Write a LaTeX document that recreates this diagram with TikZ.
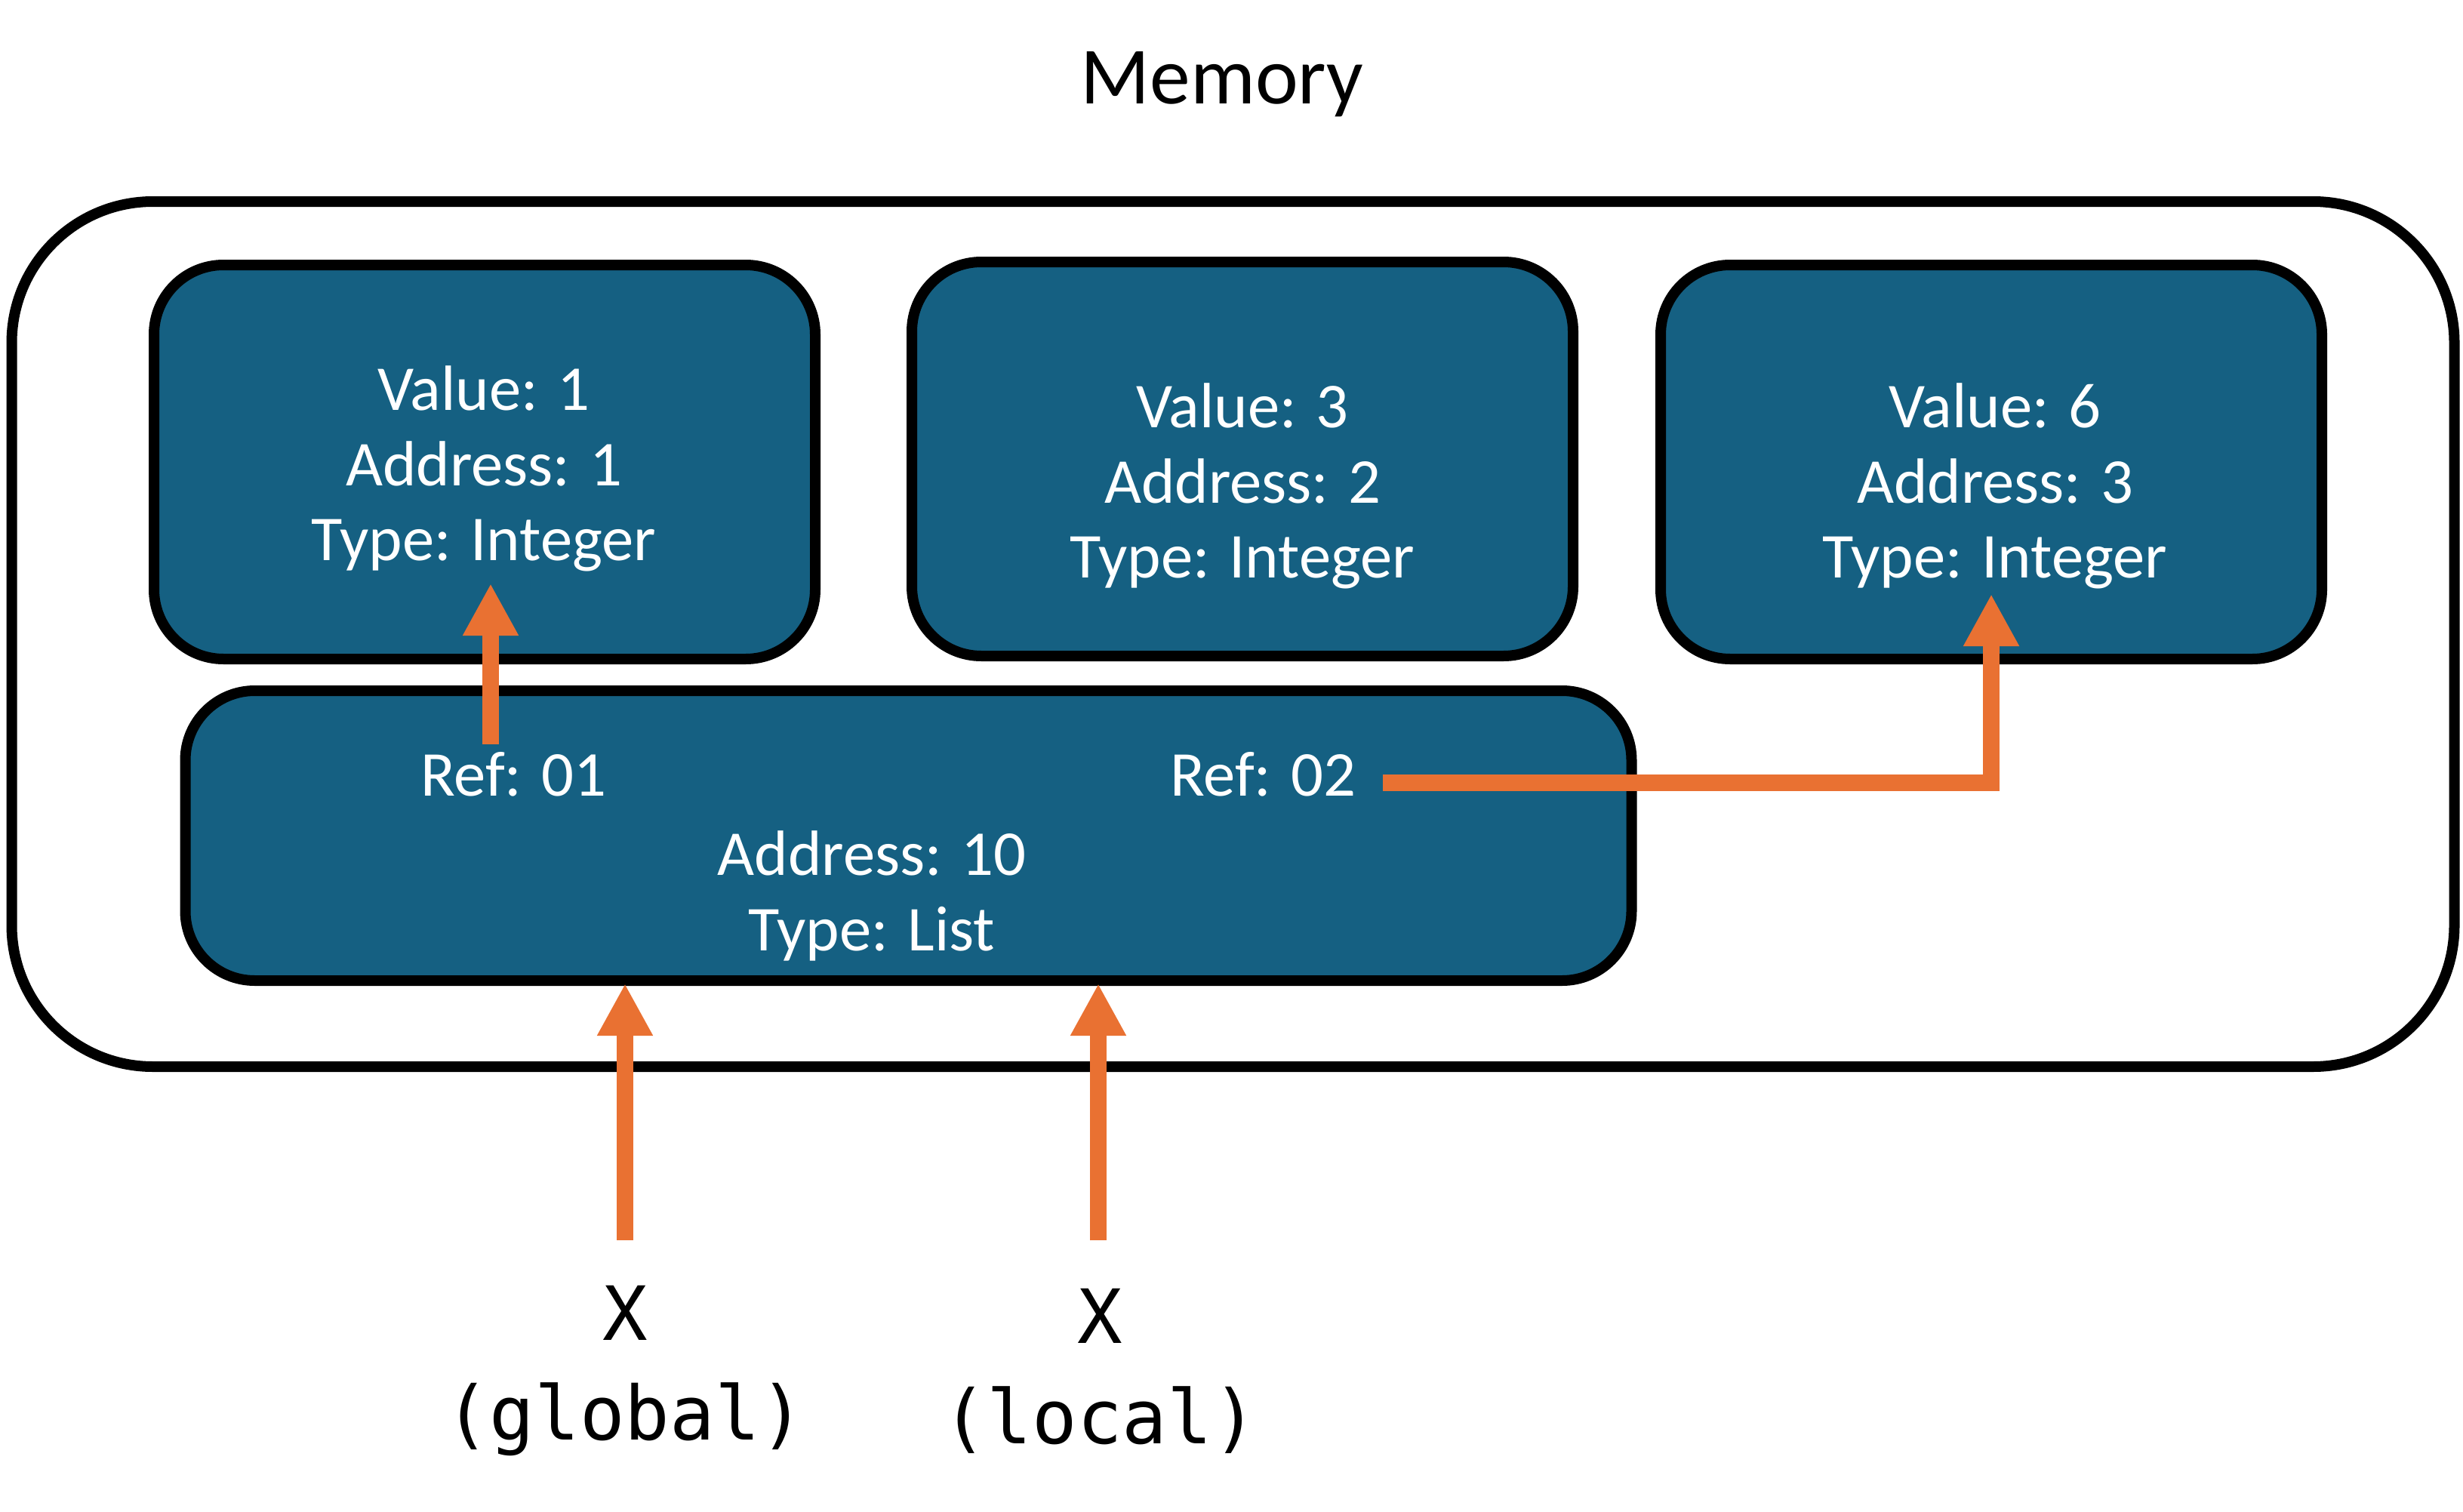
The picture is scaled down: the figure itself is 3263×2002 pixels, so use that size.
\documentclass[tikz,border=0pt]{standalone}
\usepackage{fontspec}
\setmainfont{Carlito}
\setmonofont{DejaVu Sans Mono}
\usetikzlibrary{arrows.meta}
\definecolor{cellblue}{HTML}{156082}
\definecolor{reforange}{HTML}{E97132}

\begin{document}
\begin{tikzpicture}
  [x=0.1mm, y=-0.1mm,
   cell/.style={draw=black, line width=1.4mm, fill=cellblue, rounded corners=9.2mm, inner sep=0pt, minimum width=87.6mm, minimum height=52.2mm},
   celltext/.style={text=white, align=center, inner sep=0pt, font=\fontsize{24.1pt}{28.4pt}\selectfont},
   ptr/.style={draw=reforange, line width=2.25mm, -{Triangle[length=6.9mm, width=6.9mm]}},
   varname/.style={align=center, inner sep=0pt, font=\ttfamily\fontsize{28.2pt}{37.8pt}\selectfont}]

  \useasboundingbox (0,0) rectangle (3263,2002);

  \node[draw=black, line width=1.4mm, rounded corners=18.7mm, minimum width=323.6mm, minimum height=114.6mm] (mem) at (1633.5,840) {};
  \node[inner sep=0pt, font=\fontsize{30.6pt}{36pt}\selectfont] (title) at (1619,112) {Memory};

  \node[cell] (c1) at (642,612) {};
  \node[cell] (c2) at (1646,608) {};
  \node[cell] (c3) at (2638,612) {};
  \node[cell, minimum width=191.6mm, minimum height=38.4mm] (lst) at (1203.5,1107) {};

  \node[celltext] (v1) at (641,621) {Value: 1\\Address: 1\\Type: Integer};
  \node[celltext] (v2) at (1646,644) {Value: 3\\Address: 2\\Type: Integer};
  \node[celltext] (v3) at (2643,644) {Value: 6\\Address: 3\\Type: Integer};
  \node[celltext] (ref1) at (680,1026) {Ref: 01};
  \node[celltext] (ref2) at (1673,1026) {Ref: 02};
  \node[celltext] (lstinfo) at (1155,1187) {Address: 10\\Type: List};

  \node[varname] (xg) at (828,1816) {X\\(global)};
  \node[varname] (xl) at (1457,1816) {X\\(local)};

  \coordinate (r1foot) at (650,986);
  \coordinate (r1tip) at (650,773);
  \coordinate (r2foot) at (1832,1037);
  \coordinate (r2tip) at (2638,787);
  \coordinate (gfoot) at (828,1643);
  \coordinate (gtip) at (828,1303);
  \coordinate (lfoot) at (1455,1643);
  \coordinate (ltip) at (1455,1303);

  \foreach \from/\to in {r1foot/r1tip, gfoot/gtip, lfoot/ltip}
    \draw[ptr] (\from) -- (\to);
  \draw[ptr] (r2foot) -| (r2tip);
\end{tikzpicture}
\end{document}
